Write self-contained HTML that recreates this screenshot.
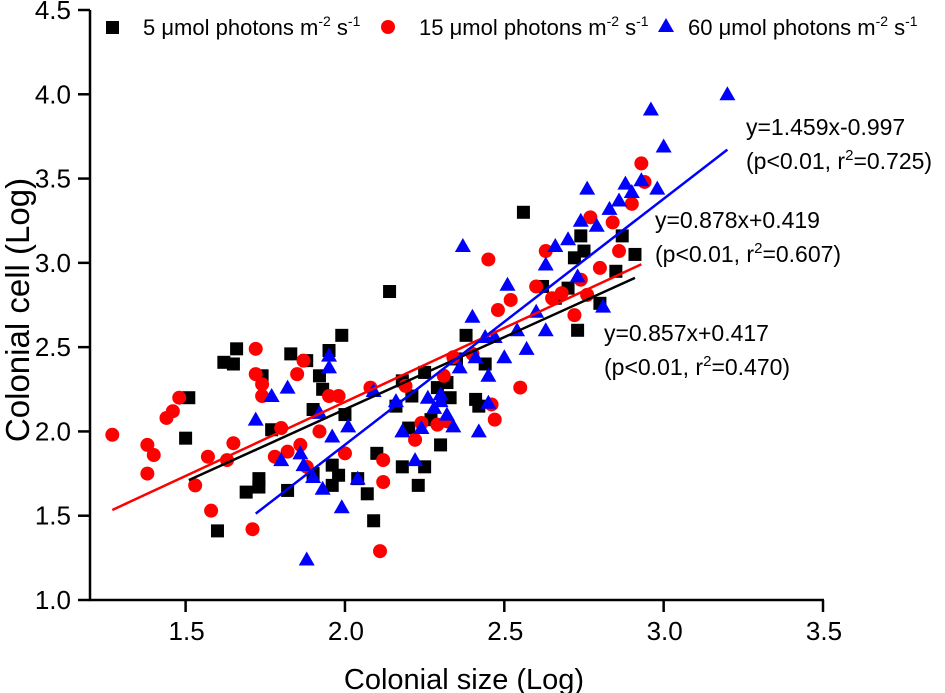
<!DOCTYPE html>
<html><head><meta charset="utf-8"><style>
body{margin:0;background:#fff}
svg{display:block;font-family:"Liberation Sans",Arial,sans-serif}
</style></head><body>
<svg id="chart" width="945" height="693" viewBox="0 0 945 693" xmlns="http://www.w3.org/2000/svg">
<g id="axes"></g>
<g id="marks"></g>
<g id="legend">
<rect x="106" y="21" width="13" height="13" fill="#000"/>
<text x="143" y="35" font-size="22">5 <tspan>μ</tspan>mol photons m<tspan dy="-9" font-size="14">-2</tspan><tspan dy="9"> s</tspan><tspan dy="-9" font-size="14">-1</tspan></text>
<circle cx="388" cy="27" r="7" fill="#f00"/>
<text x="419" y="35" font-size="22">15 μmol photons m<tspan dy="-9" font-size="14">-2</tspan><tspan dy="9"> s</tspan><tspan dy="-9" font-size="14">-1</tspan></text>
<polygon points="666,18 674,32 658,32" fill="#00f"/>
<text x="688" y="35" font-size="22">60 μmol photons m<tspan dy="-9" font-size="14">-2</tspan><tspan dy="9"> s</tspan><tspan dy="-9" font-size="14">-1</tspan></text>
</g>
<g font-size="23" fill="#000">
<text x="746" y="135">y=1.459x-0.997</text>
<text x="746" y="169">(p&lt;0.01, r<tspan dy="-9" font-size="15">2</tspan><tspan dy="9">=0.725)</tspan></text>
<text x="655" y="228">y=0.878x+0.419</text>
<text x="655" y="262">(p&lt;0.01, r<tspan dy="-9" font-size="15">2</tspan><tspan dy="9">=0.607)</tspan></text>
<text x="604" y="341">y=0.857x+0.417</text>
<text x="604" y="375">(p&lt;0.01, r<tspan dy="-9" font-size="15">2</tspan><tspan dy="9">=0.470)</tspan></text>
</g>
<text x="464" y="689" font-size="29" text-anchor="middle">Colonial size (Log)</text>
<text transform="translate(29,310) rotate(-90)" font-size="33" text-anchor="middle">Colonial cell (Log)</text>
</svg>
<script>
const xTicks=[1.5,2.0,2.5,3.0,3.5];
const yTicks=[1.0,1.5,2.0,2.5,3.0,3.5,4.0,4.5];
const blackX=[1.51,1.50,1.60,1.62,1.66,1.65,1.69,1.73,1.73,1.74,1.77,1.83,1.82,1.88,1.90,1.92,1.93,1.95,1.99,1.96,1.96,1.98,2.00,2.04,2.07,2.09,2.10,2.14,2.16,2.18,2.18,2.20,2.21,2.23,2.25,2.27,2.29,2.32,2.33,2.35,2.38,2.41,2.42,2.44,2.56,2.62,2.66,2.70,2.72,2.73,2.74,2.75,2.80,2.85,2.87,2.91,2.30,2.25,1.90];
const blackY=[2.20,1.96,1.41,2.41,2.49,2.40,1.64,1.72,1.67,2.33,2.01,2.46,1.65,2.42,2.13,2.33,2.25,2.48,2.57,1.80,1.68,1.74,2.10,1.72,1.63,1.47,1.87,2.83,2.15,2.30,1.79,2.02,2.21,1.68,1.79,2.07,2.26,2.29,2.20,2.43,2.57,2.19,2.15,2.40,3.30,2.86,2.79,2.85,3.03,2.60,3.16,3.07,2.76,2.95,3.16,3.05,1.92,2.35,1.75];
const redX=[1.27,1.38,1.38,1.40,1.44,1.46,1.48,1.53,1.57,1.58,1.63,1.65,1.71,1.72,1.72,1.74,1.74,1.78,1.80,1.82,1.85,1.87,1.86,1.88,1.92,1.95,1.98,2.00,2.08,2.11,2.12,2.12,2.19,2.22,2.24,2.29,2.31,2.32,2.34,2.40,2.45,2.46,2.47,2.48,2.52,2.55,2.60,2.63,2.65,2.68,2.72,2.74,2.76,2.77,2.80,2.84,2.86,2.90,2.93,2.94];
const redY=[1.98,1.92,1.75,1.86,2.08,2.12,2.20,1.68,1.85,1.53,1.83,1.93,1.42,2.49,2.34,2.28,2.21,1.85,2.02,1.88,2.34,2.42,1.92,1.79,2.00,2.21,2.21,1.87,2.26,1.29,1.83,1.70,2.27,1.95,2.05,2.04,2.33,2.06,2.44,2.46,3.02,2.16,2.07,2.72,2.78,2.26,2.86,3.07,2.79,2.82,2.69,2.90,2.81,3.27,2.97,3.24,3.07,3.35,3.59,3.48];
const blueX=[1.72,1.77,1.80,1.82,1.86,1.87,1.88,1.90,1.92,1.95,1.95,1.96,1.93,1.99,2.01,2.04,2.09,2.16,2.18,2.22,2.24,2.26,2.28,2.30,2.32,2.34,2.36,2.37,2.40,2.41,2.42,2.44,2.45,2.47,2.50,2.51,2.54,2.57,2.60,2.63,2.63,2.66,2.70,2.73,2.74,2.76,2.79,2.81,2.83,2.86,2.88,2.90,2.93,2.96,3.00,3.20,2.98,2.30,2.45];
const blueY=[2.07,2.21,1.83,2.26,1.87,1.80,1.24,1.73,2.11,2.45,2.38,1.97,1.66,1.55,2.03,1.72,2.24,2.18,2.00,1.83,2.02,2.20,2.14,2.18,2.10,2.03,2.38,3.10,2.68,2.44,2.00,2.56,2.33,2.56,2.44,2.87,2.60,2.49,2.71,2.60,2.99,3.10,3.14,2.92,3.25,3.44,3.22,2.74,3.32,3.37,3.47,3.42,3.49,3.91,3.69,4.00,3.44,2.22,2.17];
const fitSlope=[0.857,0.878,1.459];
const fitIntercept=[0.417,0.419,-0.997];
const fitXmin=[1.51,1.27,1.72];
const fitXmax=[2.91,2.93,3.20];
const fitColor=['#000','#f00','#00f'];
const fitNames=['fit-line-5','fit-line-15','fit-line-60'];

const X0=90,X1=823,Y0=600,Y1=10,xmin=1.2,xmax=3.5,ymin=1,ymax=4.5;
const sx=v=>X0+(v-xmin)/(xmax-xmin)*(X1-X0);
const sy=v=>Y0-(v-ymin)/(ymax-ymin)*(Y0-Y1);
const NS='http://www.w3.org/2000/svg';
function mk(tag,attrs,parent){const e=document.createElementNS(NS,tag);for(const k in attrs)e.setAttribute(k,attrs[k]);parent.appendChild(e);return e;}
const axes=document.getElementById('axes'),marks=document.getElementById('marks');
let el=mk('line',{x1:X0-1,y1:Y0,x2:X1+1,y2:Y0,stroke:'#000','stroke-width':2.5},axes);


el=mk('line',{x1:X0,y1:Y0+1,x2:X0,y2:Y1,stroke:'#000','stroke-width':2.5},axes);


xTicks.forEach(t=>{
 const x=sx(t);
 el=mk('line',{x1:x,y1:Y0,x2:x,y2:Y0+12,stroke:'#000','stroke-width':2.5},axes);
 
 
 el=mk('text',{x:x+1,y:Y0+40,'font-size':26,'text-anchor':'middle'},axes);
 el.textContent=t.toFixed(1);
 
 
});
yTicks.forEach(t=>{
 const y=sy(t);
 el=mk('line',{x1:X0-12,y1:y,x2:X0,y2:y,stroke:'#000','stroke-width':2.5},axes);
 
 
 el=mk('text',{x:X0-19,y:y+9,'font-size':26,'text-anchor':'end'},axes);
 el.textContent=t.toFixed(1);
 
 
});
blackX.forEach((v,i)=>{
 el=mk('rect',{x:sx(v)-6.5,y:sy(blackY[i])-6.5,width:13,height:13,fill:'#000'},marks);
 
 
});
redX.forEach((v,i)=>{
 el=mk('circle',{cx:sx(v),cy:sy(redY[i]),r:7,fill:'#f00'},marks);
 
 
});
blueX.forEach((v,i)=>{
 const x=sx(v),y=sy(blueY[i]);
 el=mk('polygon',{points:`${x},${y-8} ${x+8},${y+6} ${x-8},${y+6}`,fill:'#00f'},marks);
 
 
});
fitSlope.forEach((m,i)=>{
 const a=fitXmin[i],b=fitXmax[i];
 el=mk('line',{x1:sx(a),y1:sy(m*a+fitIntercept[i]),x2:sx(b),y2:sy(m*b+fitIntercept[i]),stroke:fitColor[i],'stroke-width':2.5},marks);
 
 
});
</script>
</body></html>
